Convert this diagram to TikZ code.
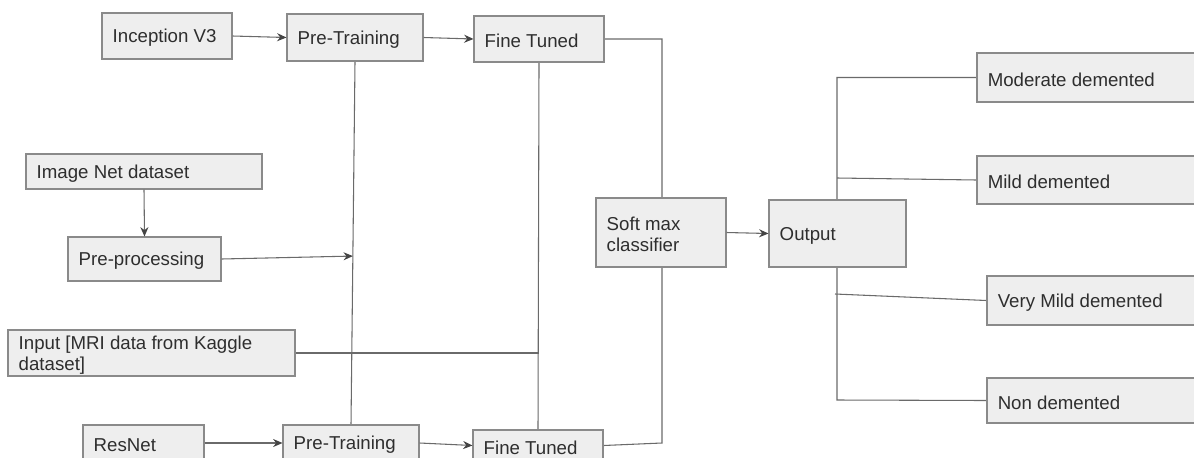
\documentclass[tikz,border=0pt]{standalone}
\usepackage{fontspec}
\setmainfont{Liberation Sans}
\usetikzlibrary{arrows.meta,calc}
\pgfdeclarelayer{background}
\pgfdeclarelayer{paper}
\pgfsetlayers{paper,background,main}
\definecolor{boxfill}{HTML}{EEEEEE}
\definecolor{boxline}{HTML}{8A8A8A}
\definecolor{txtcol}{HTML}{2E2E2E}
\definecolor{linecol}{HTML}{6A6A6A}
\definecolor{tipcol}{HTML}{444444}
\newcommand\bx[6]{%
  \node[box, minimum width=#4*0.75pt, minimum height=#5*0.75pt] (#1) at (#2+#4/2, #3+#5/2) {};
  \node[lbl, anchor=west] (#1-t) at ([xshift=11*0.75pt, yshift=-1.5pt]#1.west) {#6};}
\begin{document}
\begin{tikzpicture}[x=0.75pt, y=-0.75pt,
  box/.style={draw=boxline, fill=boxfill, line width=0.8pt, inner sep=0pt},
  lbl/.style={text=txtcol, font=\fontsize{14}{15.75}\selectfont, inner sep=0pt, align=left},
  conn/.style={draw=linecol, line width=0.8pt},
  arr/.style={conn, -{Stealth[length=7pt, width=6pt, color=tipcol]}}]
\useasboundingbox (0,0) rectangle (1194,457);
\begin{pgfonlayer}{paper}
\fill[white] (0,0) rectangle (1194,457);
\end{pgfonlayer}
\clip (0,0) rectangle (1194,457);
% boxes
\bx{inc}{102}{13}{130}{46}{Inception V3}
\bx{pta}{287}{14}{136}{47}{Pre-Training}
\bx{fta}{474}{16}{130}{46}{Fine Tuned}
\bx{img}{26}{154}{236}{35}{Image Net dataset}
\bx{pre}{68}{237}{153}{44}{Pre-processing}
\bx{inp}{8}{330}{287}{46}{Input [MRI data from Kaggle\\dataset]}
\bx{res}{83}{425}{121}{36}{ResNet}
\bx{ptb}{283}{425}{136}{36}{Pre-Training}
\bx{ftb}{473}{430}{130}{31}{Fine Tuned}
\bx{sm}{596}{198}{130}{69}{Soft max\\classifier}
\bx{out}{769}{200}{137}{67}{Output}
\bx{mod}{977}{53}{240}{49}{Moderate demented}
\bx{mild}{977}{156}{240}{48}{Mild demented}
\bx{vmild}{987}{276}{230}{49}{Very Mild demented}
\bx{non}{987}{378}{230}{45}{Non demented}
% junction coordinates
\coordinate (ra) at (662,39);
\coordinate (rb) at (662,443);
\coordinate (j1) at ($(pta.south)!0.536!(ptb.north)$);
\coordinate (oa) at (837,78);
\coordinate (ob) at (837,178);
\coordinate (oc) at (835,294);
\coordinate (od) at (837,400);
\begin{pgfonlayer}{background}
\draw[conn] (fta.east) -- (fta.east -| ra) -- (rb) -- (ftb.east);
\draw[conn] (pta.south) -- (ptb.north);
\draw[conn] (fta.south) -- (ftb.north);
\draw[conn] (inp.east) -- (inp.east -| fta.south);
\draw[conn] (mod.west) -- (mod.west -| oa) -- (od) -- (non.west);
\draw[conn] (ob) -- (mild.west);
\draw[conn] (oc) -- (vmild.west);
\end{pgfonlayer}
\draw[arr] (inc.east) -- (pta.west);
\draw[arr] (pta.east) -- (fta.west);
\draw[arr] (img.south) -- (pre.north);
\draw[arr] (pre.east) -- (j1);
\draw[arr] (res.east) -- (ptb.west);
\draw[arr] (ptb.east) -- (ftb.west);
\draw[arr] (sm.east) -- (out.west);
\end{tikzpicture}
\end{document}
